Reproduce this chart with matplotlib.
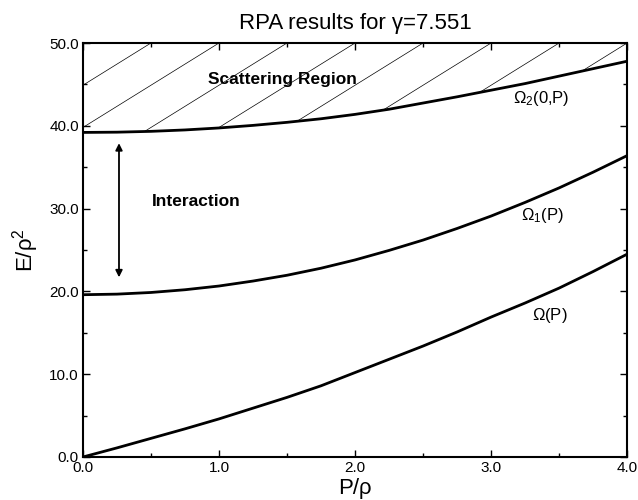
import numpy as np
import matplotlib
matplotlib.use("Agg")
import matplotlib.pyplot as plt
from matplotlib.ticker import MultipleLocator, FormatStrFormatter
from matplotlib.patches import Polygon

plt.rcParams['font.family'] = ['Liberation Sans', 'DejaVu Sans']
plt.rcParams['mathtext.fontset'] = 'custom'
plt.rcParams['mathtext.rm'] = 'Liberation Sans'
plt.rcParams['mathtext.it'] = 'Liberation Sans'

# ---- data ----
P = [0.0, 0.25, 0.5, 0.75, 1.0, 1.25, 1.5, 1.75, 2.0, 2.25, 2.5, 2.75, 3.0, 3.25, 3.5, 3.75, 4.0]
omega = [0.0, 1.1, 2.25, 3.4, 4.6, 5.9, 7.2, 8.6, 10.2, 11.8, 13.4, 15.1, 16.9, 18.6, 20.4, 22.4, 24.5]
omega1 = [19.6, 19.67, 19.87, 20.2, 20.65, 21.25, 21.95, 22.8, 23.8, 24.95, 26.2, 27.6, 29.1,
          30.75, 32.5, 34.4, 36.4]
omega2 = [39.2, 39.23, 39.33, 39.5, 39.74, 40.05, 40.42, 40.85, 41.38, 42.0, 42.75, 43.5,
          44.3, 45.1, 46.0, 46.9, 47.8]

title = "RPA results for \u03b3=7.551"
xlabel = "P/\u03c1"
ylabel = "E/\u03c1$^{2}$"
xticks = [0.0, 1.0, 2.0, 3.0, 4.0]
yticks = [0.0, 10.0, 20.0, 30.0, 40.0, 50.0]

fig = plt.figure(figsize=(6.38, 5.0), dpi=100)
ax = fig.add_axes([0.130, 0.086, 0.853, 0.828])

ax.set_xlim(0, 4)
ax.set_ylim(0, 50)

# scattering region (hatched)
verts = list(zip(P, omega2)) + [(P[-1], 50.0), (P[0], 50.0)]
poly = Polygon(verts, closed=True, facecolor='white', edgecolor='none', zorder=1)
ax.add_patch(poly)
slope = 10.2
for xt in np.arange(0.5, 4.01, 0.5):
    xs = np.array([xt - 5.0, xt])
    ys = 50.0 + slope * (xs - xt)
    ln, = ax.plot(xs, ys, color='black', lw=0.5, zorder=2)
    ln.set_clip_path(poly)

ax.plot(P, omega, color='black', lw=2.0, zorder=3)
ax.plot(P, omega1, color='black', lw=2.0, zorder=3)
ax.plot(P, omega2, color='black', lw=2.0, zorder=3)

# arrow
ax.annotate('', xy=(0.265, 37.9), xytext=(0.265, 21.7),
            arrowprops=dict(arrowstyle='<|-|>', color='black', lw=1.3,
                            mutation_scale=10, shrinkA=0, shrinkB=0), zorder=4)

ax.text(0.507, 30.9, "Interaction", fontsize=12.5, fontweight='bold', ha='left', va='center')
ax.text(0.92, 45.6, "Scattering Region", fontsize=12.5, fontweight='bold', ha='left', va='center')
ax.text(3.37, 43.3, r"$\Omega_2\mathrm{(0{,}P)}$", fontsize=12, ha='center', va='center')
ax.text(3.38, 29.2, r"$\Omega_1\mathrm{(P)}$", fontsize=12, ha='center', va='center')
ax.text(3.43, 17.1, r"$\Omega\mathrm{(P)}$", fontsize=12, ha='center', va='center')

ax.set_xticks(xticks)
ax.set_yticks(yticks)
ax.xaxis.set_major_formatter(FormatStrFormatter('%.1f'))
ax.yaxis.set_major_formatter(FormatStrFormatter('%.1f'))
ax.xaxis.set_minor_locator(MultipleLocator(0.5))
ax.yaxis.set_minor_locator(MultipleLocator(5))
ax.tick_params(which='both', direction='in', top=True, right=True, labelsize=11, width=1)
ax.tick_params(which='major', length=5, pad=3)
ax.tick_params(which='minor', length=3)
for s in ax.spines.values():
    s.set_linewidth(1.5)

ax.set_title(title, fontsize=16, pad=10)
ax.set_xlabel(xlabel, fontsize=16, labelpad=2)
ax.set_ylabel(ylabel, fontsize=16, labelpad=6)

fig.savefig("out.png", dpi=100)
